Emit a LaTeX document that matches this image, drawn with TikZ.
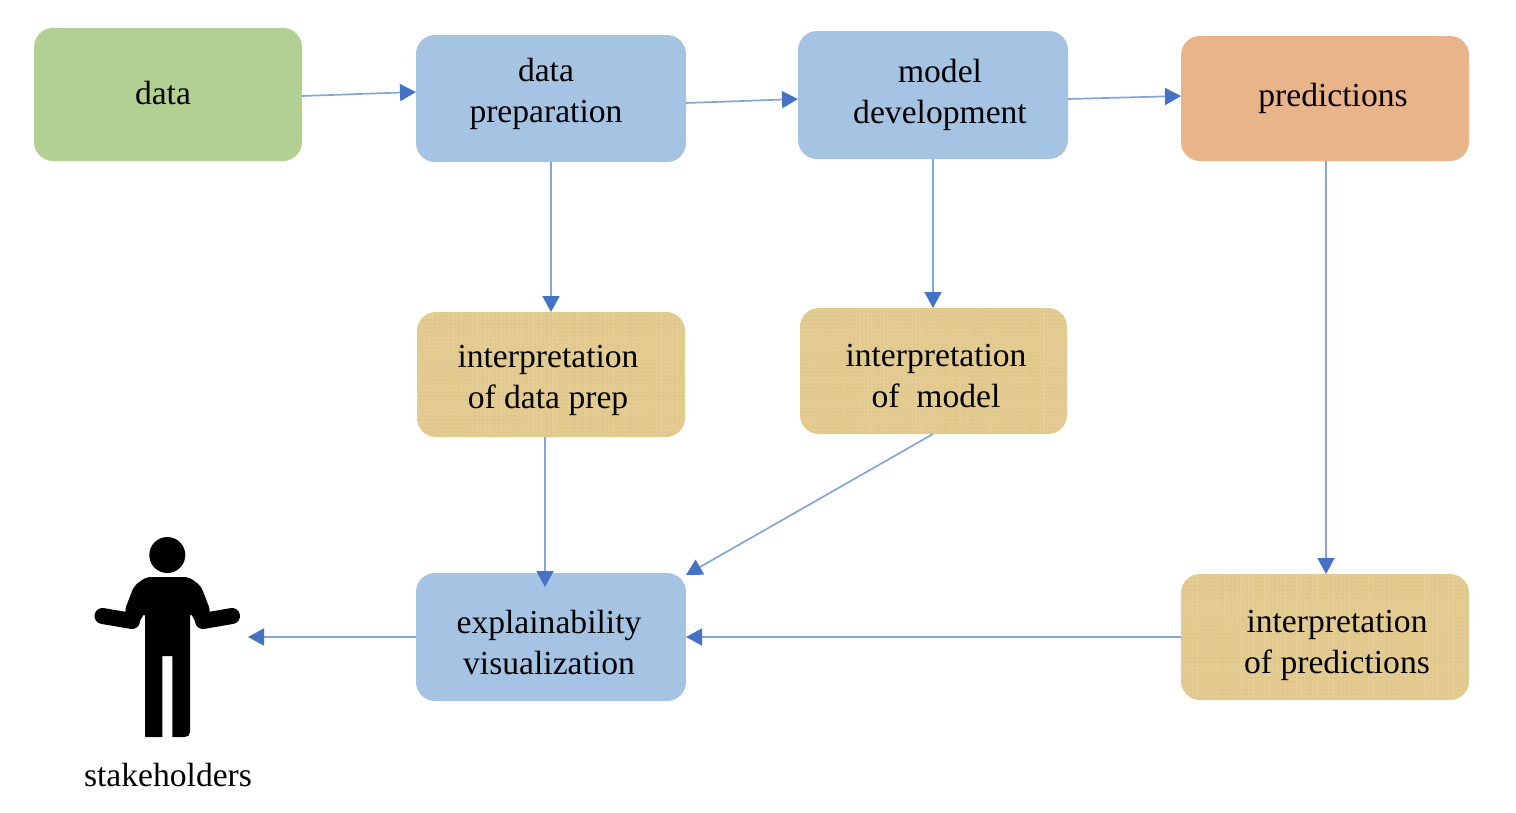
\documentclass[tikz,border=0pt]{standalone}
\usepackage{fontspec}
\setmainfont{Liberation Serif}
\usetikzlibrary{arrows.meta}
\definecolor{greenbox}{HTML}{B3D093}
\definecolor{bluebox}{HTML}{A5C4E4}
\definecolor{orangebox}{HTML}{E9B48A}
\definecolor{burlap}{HTML}{E3CB90}
\definecolor{burlaplight}{HTML}{EDDBAE}
\definecolor{burlapdark}{HTML}{D6BB7C}
\definecolor{tipblue}{HTML}{4472C4}
\definecolor{lineblue}{HTML}{85A4DA}
\tikzset{
  box/.style={inner sep=0pt,outer sep=0pt,rounded corners=19pt,anchor=north west},
  greenfill/.style={box,fill=greenbox},
  bluefill/.style={box,fill=bluebox},
  orangefill/.style={box,fill=orangebox},
  burlapfill/.style={box,fill=burlap,path picture={
    \pgfmathsetseed{7}
    \foreach \k in {0,4,...,300}{
      \pgfmathsetmacro{\o}{8+rnd*18}
      \draw[burlaplight,opacity=\o/100,line width=1.6pt]
        ([xshift=\k pt]path picture bounding box.north west) -- ([xshift=\k pt]path picture bounding box.south west);
      \pgfmathsetmacro{\p}{8+rnd*18}
      \draw[burlapdark,opacity=\p/100,line width=1.6pt]
        ([yshift=-\k pt]path picture bounding box.north west) -- ([yshift=-\k pt]path picture bounding box.north east);
    }}},
  lbl/.style={align=center,inner sep=0pt,font=\fontsize{33.6}{41}\selectfont},
  conn/.style={lineblue,line width=1.7pt,-{Triangle[length=16pt,width=17pt,color=tipblue]}},
  personfill/.style={fill=black,draw=none},
  personarm/.style={draw=black,line width=16pt,line cap=round,line join=round}
}
\begin{document}
\begin{tikzpicture}[x=1pt,y=-1pt]
\useasboundingbox (0,0) rectangle (1516,812);
% boxes
\node[greenfill,minimum width=268pt,minimum height=133pt] (data) at (34,28) {};
\node[bluefill,minimum width=270pt,minimum height=127pt] (prep) at (416,35) {};
\node[bluefill,minimum width=270pt,minimum height=128pt] (model) at (798,31) {};
\node[orangefill,minimum width=288pt,minimum height=125pt] (pred) at (1181,36) {};
\node[burlapfill,minimum width=268pt,minimum height=125pt] (intdata) at (417,312) {};
\node[burlapfill,minimum width=267pt,minimum height=126pt] (intmodel) at (800,308) {};
\node[bluefill,minimum width=270pt,minimum height=128pt] (expl) at (416,573) {};
\node[burlapfill,minimum width=288pt,minimum height=126pt] (intpred) at (1181,574) {};
% labels
\node[lbl] (tdata) at (163,93) {data};
\node[lbl] (tprep) at (546,94) {data\\preparation};
\node[lbl] (tmodel) at (940,95) {model\\development};
\node[lbl] (tpred) at (1333,98) {predictions};
\node[lbl] (tintdata) at (548,380) {interpretation\\of data prep};
\node[lbl] (tintmodel) at (936,376.5) {interpretation\\of\ \ model};
\node[lbl] (texpl) at (549,642.5) {explainability\\visualization};
\node[lbl] (tintpred) at (1337,645) {interpretation\\of predictions};
\node[lbl] (tstake) at (168,775) {stakeholders};
% person
\fill[personfill] (167.3,555) circle (18);
\fill[personfill,rounded corners=5pt] (145,737) -- (145,612) -- (136,628) -- (124,612) -- (134,586) -- (146,577) -- (189,577) -- (201,586) -- (211,612) -- (199,628) -- (190,612) -- (190,737) [sharp corners] -- (172.3,737) -- (172.3,656) -- (162.3,656) -- (162.3,737) -- cycle;
\draw[personarm] (102.5,616) -- (132,621);
\draw[personarm] (232,616) -- (203,621);
\coordinate (person) at (248,637);
% connectors
\draw[conn] ([yshift=-1.5pt]data.east) -- ([yshift=6.5pt]prep.west);
\draw[conn] ([yshift=-4.5pt]prep.east) -- ([yshift=-4pt]model.west);
\draw[conn] ([yshift=-4pt]model.east) -- ([yshift=2.5pt]pred.west);
\draw[conn] (prep.south -| intdata.north) -- (intdata.north);
\draw[conn] (model.south) -- ([xshift=-0.5pt]intmodel.north);
\draw[conn] ([xshift=1pt]pred.south) -- ([xshift=1pt]intpred.north);
\draw[conn] ([xshift=-6pt]intdata.south) -- ([xshift=-6pt,yshift=-14pt]expl.north);
\draw[conn] ([xshift=-0.5pt]intmodel.south) -- ([yshift=-2pt]expl.north east);
\draw[conn] (intpred.west) -- (expl.east);
\draw[conn] (expl.west) -- (person);
\end{tikzpicture}
\end{document}
